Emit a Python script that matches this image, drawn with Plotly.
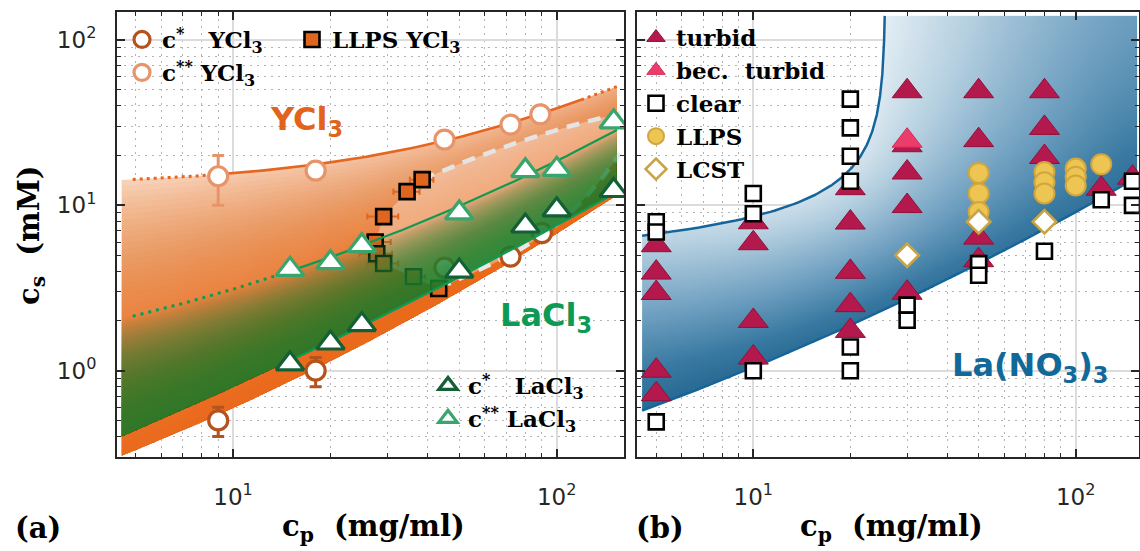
import numpy as np
import plotly.graph_objects as go

W, H = 1140, 551

# ---------------- panel (a): YCl3 and LaCl3 ----------------
ycl3_c1_x = [9, 18, 45, 72, 90]
ycl3_c1_y = [0.5, 1.0, 4.2, 4.9, 6.8]
ycl3_c1_err = [0.1, 0.2, 0.0, 0.0, 0.0]

ycl3_c2_x = [9, 18, 45, 72, 89]
ycl3_c2_y = [15.0, 16.2, 25.0, 30.8, 35.5]
ycl3_c2_err = [5.0, 0.0, 0.0, 0.0, 0.0]

ycl3_llps_x = [29.2, 34.5, 38.4, 27.5, 27.8, 29.2, 36.1, 43.2]
ycl3_llps_y = [8.55, 12.1, 14.3, 6.0, 5.1, 4.45, 3.7, 3.14]
ycl3_llps_xerr = [3.2, 3.2, 3.2, 3.2, 3.2, 3.2, 3.2, 3.2]

lacl3_c1_x = [15, 20, 25, 50, 80, 100, 150]
lacl3_c1_y = [1.1, 1.47, 1.9, 4.0, 7.5, 9.4, 12.3]
lacl3_c2_x = [15, 20, 25, 50, 80, 100, 150]
lacl3_c2_y = [4.1, 4.5, 5.7, 9.0, 16.2, 16.5, 32.0]

# points along the guide curves of panel (a)
ycl3_c2_line_x = [4.9, 9, 18, 44.8, 71.8, 88.9, 153.5]
ycl3_c2_line_y = [15.3, 15.5, 17.0, 24.9, 30.7, 35.0, 53.0]
ycl3_c1_line_x = [4.4, 8.9, 18.2, 71.8, 153.5]
ycl3_c1_line_y = [0.30, 0.56, 0.94, 5.0, 11.0]
lacl3_c2_line_x = [4.9, 15, 25, 50, 80, 153.5]
lacl3_c2_line_y = [2.11, 4.15, 5.75, 9.2, 15.6, 28.6]
lacl3_c1_line_x = [4.4, 13.7, 46.9, 153.5]
lacl3_c1_line_y = [0.387, 1.08, 3.37, 12.1]
llps_hi_x = [38.4, 41.6, 58.6, 77.1, 96.6, 141, 157]
llps_hi_y = [14.3, 15.3, 20.2, 24.3, 27.9, 34.4, 36.0]
llps_lo_x = [43.2, 62, 90, 121, 160]
llps_lo_y = [3.14, 4.3, 6.6, 10.8, 21.8]

# ---------------- panel (b): La(NO3)3 ----------------
turbid_x = [5, 5, 5, 5, 5, 10, 10, 10, 10, 20, 20, 20, 20, 20,
            30, 30, 30, 30, 30, 50, 50, 50, 50, 80, 80, 80, 120, 150]
turbid_y = [5.74, 3.92, 2.95, 1.0, 0.72, 7.9, 5.9, 2.0, 1.2,
            12.7, 7.87, 3.96, 2.49, 1.74, 49, 23.1, 15.8, 9.9, 2.96,
            49, 24.8, 6.38, 4.66, 49, 29.4, 19.6, 12.6, 14.7]
bec_x = [30]
bec_y = [24.6]
clear_x = [5, 5, 5, 10, 10, 10, 20, 20, 20, 20, 20, 20, 30, 30, 50, 50, 80, 120, 150, 150]
clear_y = [7.95, 6.9, 0.49, 11.8, 8.9, 1.0, 43.9, 29.4, 19.8, 14.0, 1.39, 1.0,
           2.49, 2.02, 4.44, 3.78, 5.28, 10.8, 14.0, 10.0]
llps_x = [50, 50, 50, 80, 80, 80, 100, 100, 100, 120]
llps_y = [15.7, 11.8, 9.1, 15.9, 13.8, 11.8, 16.7, 14.9, 13.2, 17.7]
lcst_x = [30, 50, 80]
lcst_y = [4.99, 7.95, 7.95]

# points along the boundaries of the turbid region
nb_lo_x = [4.57, 10, 20, 29.7, 49.4, 78.5, 119, 155]
nb_lo_y = [0.575, 1.08, 1.84, 2.61, 4.56, 7.1, 11.0, 14.6]
nb_up_x = [4.52, 10, 15, 20, 23.1, 24.5, 25.2, 25.5]
nb_up_y = [6.03, 9.25, 12.7, 18.0, 24.3, 32.1, 58.9, 142.6]

# tick labels
xtick_vals = [10, 100]
xtick_text = ["10<sup>1</sup>", "10<sup>2</sup>"]
ytick_vals = [1, 10, 100]
ytick_text = ["10<sup>0</sup>", "10<sup>1</sup>", "10<sup>2</sup>"]

# ---------------- helpers ----------------
def loglog_fit(x, y, deg):
    p = np.polyfit(np.log10(x), np.log10(y), deg)
    return lambda xx: 10 ** np.polyval(p, np.log10(xx))


def lin_fit(x, y):
    p = np.polyfit(x, y, 1)
    return lambda xx: np.polyval(p, xx)


NOHOVER = dict(hoverinfo="skip", showlegend=False)
XA = dict(xaxis="x", yaxis="y")
XB = dict(xaxis="x2", yaxis="y2")

fig = go.Figure()

f_ycl3_hi = lin_fit(ycl3_c2_line_x, ycl3_c2_line_y)
f_ycl3_lo = loglog_fit(ycl3_c1_line_x, ycl3_c1_line_y, 2)
f_la_hi = loglog_fit(lacl3_c2_line_x, lacl3_c2_line_y, 2)
f_la_lo = loglog_fit(lacl3_c1_line_x, lacl3_c1_line_y, 2)
f_llps_hi = loglog_fit(llps_hi_x, llps_hi_y, 2)
f_llps_lo = loglog_fit(llps_lo_x, llps_lo_y, 3)

BX0, BX1 = 4.53, 153.5
xs = np.geomspace(BX0, BX1, 160)


def closed(xx, top, bot):
    return (np.concatenate([xx, xx[::-1]]), np.concatenate([top, bot[::-1]]))


# orange YCl3 band: light base, then stacked translucent layers growing toward c*
top_o, bot_o = f_ycl3_hi(xs), f_ycl3_lo(xs)
px, py = closed(xs, top_o, bot_o)
fig.add_trace(go.Scatter(x=px, y=py, mode="lines", fill="toself", line=dict(width=0),
                         fillgradient=dict(type="horizontal",
                                           colorscale=[[0, "#f8d6bf"], [1, "#f0b089"]]),
                         **NOHOVER, **XA))
N_O = 48
for k in range(N_O):
    t = k / N_O
    yk = top_o ** (1 - t) * bot_o ** t
    px, py = closed(xs, yk, bot_o)
    fig.add_trace(go.Scatter(x=px, y=py, mode="lines", fill="toself", line=dict(width=0),
                             fillcolor="rgba(226,100,30,0.047)", **NOHOVER, **XA))

# LLPS YCl3 region (lighter), bounded left by the LLPS points
xh = np.geomspace(llps_hi_x[0], BX1, 80)
xl = np.geomspace(llps_lo_x[0], BX1, 80)
nose_x = [43.2, 36.1, 29.2, 27.8, 27.5, 29.2, 34.5, 38.4]
nose_y = [3.14, 3.7, 4.45, 5.1, 6.0, 8.55, 12.1, 14.3]
hx = np.concatenate([xh, xl[::-1], nose_x])
hy = np.concatenate([f_llps_hi(xh), f_llps_lo(xl)[::-1], nose_y])
fig.add_trace(go.Scatter(x=hx, y=hy, mode="lines", fill="toself", line=dict(width=0),
                         fillcolor="rgba(255,255,255,0.33)", **NOHOVER, **XA))

xh2 = np.geomspace(llps_hi_x[0], 157, 80)
xl2 = np.geomspace(llps_lo_x[0], 157, 80)
fig.add_trace(go.Scatter(x=xh2, y=f_llps_hi(xh2), mode="lines",
                         line=dict(color="#e4e4e4", width=4.5, dash="13px,9px"), **NOHOVER, **XA))
fig.add_trace(go.Scatter(x=xl2, y=f_llps_lo(xl2), mode="lines",
                         line=dict(color="#e8e8e8", width=4.5, dash="13px,9px"), **NOHOVER, **XA))

# c* YCl3 and LLPS YCl3 markers (beneath the LaCl3 band)
fig.add_trace(go.Scatter(
    x=ycl3_c1_x, y=ycl3_c1_y, mode="markers",
    name="<b>c<sup>*</sup>&nbsp;&nbsp;&nbsp;YCl<sub>3</sub></b>",
    marker=dict(symbol="circle", size=19, color="white", line=dict(color="#b4531d", width=3.2)),
    error_y=dict(type="data", array=ycl3_c1_err, color="#b4531d", thickness=3, width=6),
    legend="legend", legendrank=1, hoverinfo="skip", **XA))
fig.add_trace(go.Scatter(
    x=ycl3_llps_x, y=ycl3_llps_y, mode="markers", name="<b>LLPS YCl<sub>3</sub></b>",
    marker=dict(symbol="square", size=15, color="#e0651e", line=dict(color="black", width=2.6)),
    error_x=dict(type="data", array=ycl3_llps_xerr, color="#e0651e", thickness=2, width=3),
    legend="legend2", hoverinfo="skip", **XA))

# green LaCl3 band: translucent layers stacked toward c*
top_g, bot_g = f_la_hi(xs), f_la_lo(xs)
N_G = 48
for k in range(N_G):
    t = k / N_G
    yk = top_g ** (1 - t) * bot_g ** t
    px, py = closed(xs, yk, bot_g)
    fig.add_trace(go.Scatter(x=px, y=py, mode="lines", fill="toself", line=dict(width=0),
                             fillcolor="rgba(33,128,58,0.052)", **NOHOVER, **XA))

# guide lines
GREEN = "#0f9a52"
ORANGE = "#e6661f"
x_dot = np.geomspace(4.9, 15, 30)
x_sol = np.geomspace(15, BX1, 80)
fig.add_trace(go.Scatter(x=x_dot, y=f_la_hi(x_dot), mode="lines",
                         line=dict(color=GREEN, width=3, dash="3px,5px"), **NOHOVER, **XA))
fig.add_trace(go.Scatter(x=x_sol, y=f_la_hi(x_sol), mode="lines",
                         line=dict(color=GREEN, width=2.2), **NOHOVER, **XA))
x_sol2 = np.geomspace(13.7, BX1, 80)
fig.add_trace(go.Scatter(x=x_sol2, y=f_la_lo(x_sol2), mode="lines",
                         line=dict(color=GREEN, width=2.2), **NOHOVER, **XA))

xo1 = np.geomspace(4.9, 8.5, 20)
xo2 = np.geomspace(8.5, 119, 80)
xo3 = np.geomspace(119, 156, 20)
fig.add_trace(go.Scatter(x=xo1, y=f_ycl3_hi(xo1), mode="lines",
                         line=dict(color=ORANGE, width=3, dash="3px,4px"), **NOHOVER, **XA))
fig.add_trace(go.Scatter(x=xo2, y=f_ycl3_hi(xo2), mode="lines",
                         line=dict(color=ORANGE, width=2.6), **NOHOVER, **XA))
fig.add_trace(go.Scatter(x=xo3, y=f_ycl3_hi(xo3), mode="lines",
                         line=dict(color=ORANGE, width=3, dash="3px,4px"), **NOHOVER, **XA))

fig.add_trace(go.Scatter(
    x=ycl3_c2_x, y=ycl3_c2_y, mode="markers",
    name="<b>c<sup>**</sup>&nbsp;YCl<sub>3</sub></b>",
    marker=dict(symbol="circle", size=19, color="white", line=dict(color="#e8946a", width=3.2)),
    error_y=dict(type="data", array=ycl3_c2_err, color="#e8946a", thickness=3, width=6),
    legend="legend", legendrank=2, hoverinfo="skip", **XA))
fig.add_trace(go.Scatter(
    x=lacl3_c1_x, y=lacl3_c1_y, mode="markers",
    name="<b>c<sup>*</sup>&nbsp;&nbsp;&nbsp;LaCl<sub>3</sub></b>",
    marker=dict(symbol="triangle-up", size=24, color="white", line=dict(color="#135f36", width=3.2)),
    legend="legend3", legendrank=1, hoverinfo="skip", **XA))
fig.add_trace(go.Scatter(
    x=lacl3_c2_x, y=lacl3_c2_y, mode="markers",
    name="<b>c<sup>**</sup>&nbsp;LaCl<sub>3</sub></b>",
    marker=dict(symbol="triangle-up", size=24, color="white", line=dict(color="#38a56c", width=3.2)),
    legend="legend3", legendrank=2, hoverinfo="skip", **XA))

# ---------------- panel (b) shaded region ----------------
f_nb_lo = loglog_fit(nb_lo_x, nb_lo_y, 2)
X_ASYM = 25.7
A = np.column_stack([np.ones(len(nb_up_x)), np.log10(nb_up_x),
                     -np.log10(1 - np.array(nb_up_x) / X_ASYM)])
cf = np.linalg.lstsq(A, np.log10(nb_up_y), rcond=None)[0]


def f_nb_up(xx):
    xx = np.asarray(xx, float)
    return 10 ** (cf[0] + cf[1] * np.log10(xx) - cf[2] * np.log10(1 - xx / X_ASYM))


RX0, RX1, RYTOP = 4.52, 155.0, 140.0
u = np.geomspace(1 - RX0 / X_ASYM, 1e-5, 500)
xu = X_ASYM * (1 - u)
yu = f_nb_up(xu)
keep = yu < RYTOP
x_cross = np.interp(np.log10(RYTOP), np.log10(yu), xu)
xu = np.append(xu[keep], x_cross)
yu = np.append(yu[keep], RYTOP)
xlo = np.geomspace(RX0, RX1, 300)
ylo = f_nb_lo(xlo)

PXD, PYD = 322.4, 165.3  # pixels per decade
NX, NY = 250, 215
lx_e = np.linspace(np.log10(RX0), np.log10(RX1), NX + 1)
ly_e = np.linspace(np.log10(ylo.min()), np.log10(RYTOP), NY + 1)
lxc = 0.5 * (lx_e[:-1] + lx_e[1:])
lyc = 0.5 * (ly_e[:-1] + ly_e[1:])
l_lo = np.log10(f_nb_lo(10 ** lxc))
l_up = np.full(NX, np.log10(RYTOP))
left = 10 ** lxc < x_cross
l_up[left] = np.minimum(np.log10(f_nb_up(10 ** lxc[left])), np.log10(RYTOP))

pu = np.column_stack([np.log10(xu) * PXD, np.log10(yu) * PYD])
pl = np.column_stack([np.log10(xlo) * PXD, np.log10(ylo) * PYD])
corner = pu[-1]
cx = lxc * PXD
z = np.full((NY, NX), np.nan)
for j in range(NY):
    cy = lyc[j] * PYD
    du = np.sqrt((cx[:, None] - pu[None, :, 0]) ** 2 + (cy - pu[None, :, 1]) ** 2).min(axis=1)
    dl = np.sqrt((cx[:, None] - pl[None, :, 0]) ** 2 + (cy - pl[None, :, 1]) ** 2).min(axis=1)
    dc = np.sqrt((cx - corner[0]) ** 2 + (cy - corner[1]) ** 2)
    t = du / (du + dl + 1e-9)
    val = 0.75 * t + 0.25 * np.clip(dc / 400.0, 0, 1)
    inside = (lyc[j] > l_lo) & (lyc[j] < l_up)
    z[j, inside] = val[inside]

fig.add_trace(go.Heatmap(
    x=10 ** lx_e, y=10 ** ly_e, z=z, zmin=0, zmax=1, showscale=False, hoverinfo="skip",
    colorscale=[[0, "#e4eef4"], [0.25, "#b7d1e1"], [0.6, "#6e9fc0"], [0.85, "#3a7aa2"], [1, "#286a93"]],
    **XB))

BLUE = "#15659b"
fig.add_trace(go.Scatter(x=xu, y=yu, mode="lines", line=dict(color=BLUE, width=2.5), **NOHOVER, **XB))
fig.add_trace(go.Scatter(x=xlo, y=ylo, mode="lines", line=dict(color=BLUE, width=2.5), **NOHOVER, **XB))

fig.add_trace(go.Scatter(
    x=turbid_x, y=turbid_y, mode="markers", name="<b>turbid</b>",
    marker=dict(symbol="triangle-up", size=26, color="#b3194c", line=dict(color="#921038", width=1)),
    legend="legend4", legendrank=1, hoverinfo="skip", **XB))
fig.add_trace(go.Scatter(
    x=bec_x, y=bec_y, mode="markers", name="<b>bec.&nbsp;&nbsp;turbid</b>",
    marker=dict(symbol="triangle-up", size=26, color="#ec3c6b", line=dict(color="#cf2a57", width=1)),
    legend="legend4", legendrank=2, hoverinfo="skip", **XB))
fig.add_trace(go.Scatter(
    x=llps_x, y=llps_y, mode="markers", name="<b>LLPS</b>",
    marker=dict(symbol="circle", size=20, color="#ecc552", line=dict(color="#d1a63c", width=2)),
    legend="legend4", legendrank=4, hoverinfo="skip", **XB))
fig.add_trace(go.Scatter(
    x=lcst_x, y=lcst_y, mode="markers", name="<b>LCST</b>",
    marker=dict(symbol="diamond", size=18, color="white", line=dict(color="#c9a445", width=2.6)),
    legend="legend4", legendrank=5, hoverinfo="skip", **XB))
fig.add_trace(go.Scatter(
    x=clear_x, y=clear_y, mode="markers", name="<b>clear</b>",
    marker=dict(symbol="square", size=15, color="white", line=dict(color="black", width=2.6)),
    legend="legend4", legendrank=3, hoverinfo="skip", **XB))

# ---------------- axes ----------------
minor_x = [5, 6, 7, 8, 9, 20, 30, 40, 50, 60, 70, 80, 90]
minor_y = [0.4, 0.5, 0.6, 0.7, 0.8, 0.9, 2, 3, 4, 5, 6, 7, 8, 9, 20, 30, 40, 50, 60, 70, 80, 90]
DARK = "#262626"


def axis(domain, rng, tv, tt, minor_vals, show_labels=True, standoff=0):
    return dict(
        type="log", domain=domain, range=rng, showline=True, linewidth=2, linecolor=DARK,
        mirror="allticks", ticks="inside", ticklen=8, tickwidth=1.5, tickcolor=DARK,
        tickvals=tv, ticktext=tt, showticklabels=show_labels, ticklabelstandoff=standoff,
        tickfont=dict(family="DejaVu Sans", size=23, color=DARK),
        showgrid=True, gridcolor="#dcdcdc", gridwidth=1.6, zeroline=False,
        minor=dict(tickmode="array", tickvals=minor_vals, ticks="inside", ticklen=4,
                   tickwidth=1.2, tickcolor=DARK, showgrid=True, gridcolor="#b4b4b4",
                   gridwidth=1.3, griddash="2px,5px"),
        fixedrange=True,
    )


XDOM_A = [117 / W, 624 / W]
XDOM_B = [637 / W, 1139 / W]
YDOM = [1 - 457 / H, 1 - 12 / H]
XR_A = [0.6416, 2.2079]
XR_B = [0.6393, 2.1963]
YR = [-0.5221, 2.1694]

LEG = dict(bgcolor="rgba(0,0,0,0)", borderwidth=0, itemwidth=30,
           font=dict(family="DejaVu Serif", size=23, color="black"),
           xanchor="left", yanchor="top", tracegroupgap=0)

fig.update_layout(
    width=W, height=H, margin=dict(l=0, r=0, t=0, b=0),
    paper_bgcolor="white", plot_bgcolor="white",
    xaxis=axis(XDOM_A, XR_A, xtick_vals, xtick_text, minor_x, standoff=18),
    yaxis=axis(YDOM, YR, ytick_vals, ytick_text, minor_y, standoff=14),
    xaxis2=dict(axis(XDOM_B, XR_B, xtick_vals, xtick_text, minor_x, standoff=18), anchor="y2"),
    yaxis2=dict(axis(YDOM, YR, ytick_vals, ytick_text, minor_y, show_labels=False), anchor="x2"),
    legend=dict(LEG, x=122 / W, y=1 - 18 / H),
    legend2=dict(LEG, x=292 / W, y=1 - 18 / H),
    legend3=dict(LEG, x=428 / W, y=1 - 364 / H),
    legend4=dict(LEG, x=636 / W, y=1 - 16 / H),
)

# ---------------- text ----------------
SERIF_B = dict(family="DejaVu Serif", size=29, color="black")
ann = [
    dict(text="<b>c<sub>p</sub>&nbsp;&nbsp;(mg/ml)</b>", x=373 / W, y=1 - 528 / H, font=SERIF_B),
    dict(text="<b>c<sub>p</sub>&nbsp;&nbsp;(mg/ml)</b>", x=891 / W, y=1 - 528 / H, font=SERIF_B),
    dict(text="<b>c<sub>s</sub>&nbsp;&nbsp;(mM)</b>", x=31 / W, y=1 - 235 / H, font=SERIF_B, textangle=-90),
    dict(text="<b>(a)</b>", x=38 / W, y=1 - 528 / H, font=SERIF_B),
    dict(text="<b>(b)</b>", x=660 / W, y=1 - 528 / H, font=SERIF_B),
    dict(text="<b>YCl<sub>3</sub></b>", x=306 / W, y=1 - 121 / H,
         font=dict(family="DejaVu Sans", size=32, color="#e2641c")),
    dict(text="<b>LaCl<sub>3</sub></b>", x=546 / W, y=1 - 317 / H,
         font=dict(family="DejaVu Sans", size=32, color="#0d9a55")),
    dict(text="<b>La(NO<sub>3</sub>)<sub>3</sub></b>", x=1030 / W, y=1 - 367 / H,
         font=dict(family="DejaVu Sans", size=32, color="#11699a")),
]
for a in ann:
    fig.add_annotation(xref="paper", yref="paper", showarrow=False,
                       xanchor="center", yanchor="middle", **a)

fig.write_html("out.html")
